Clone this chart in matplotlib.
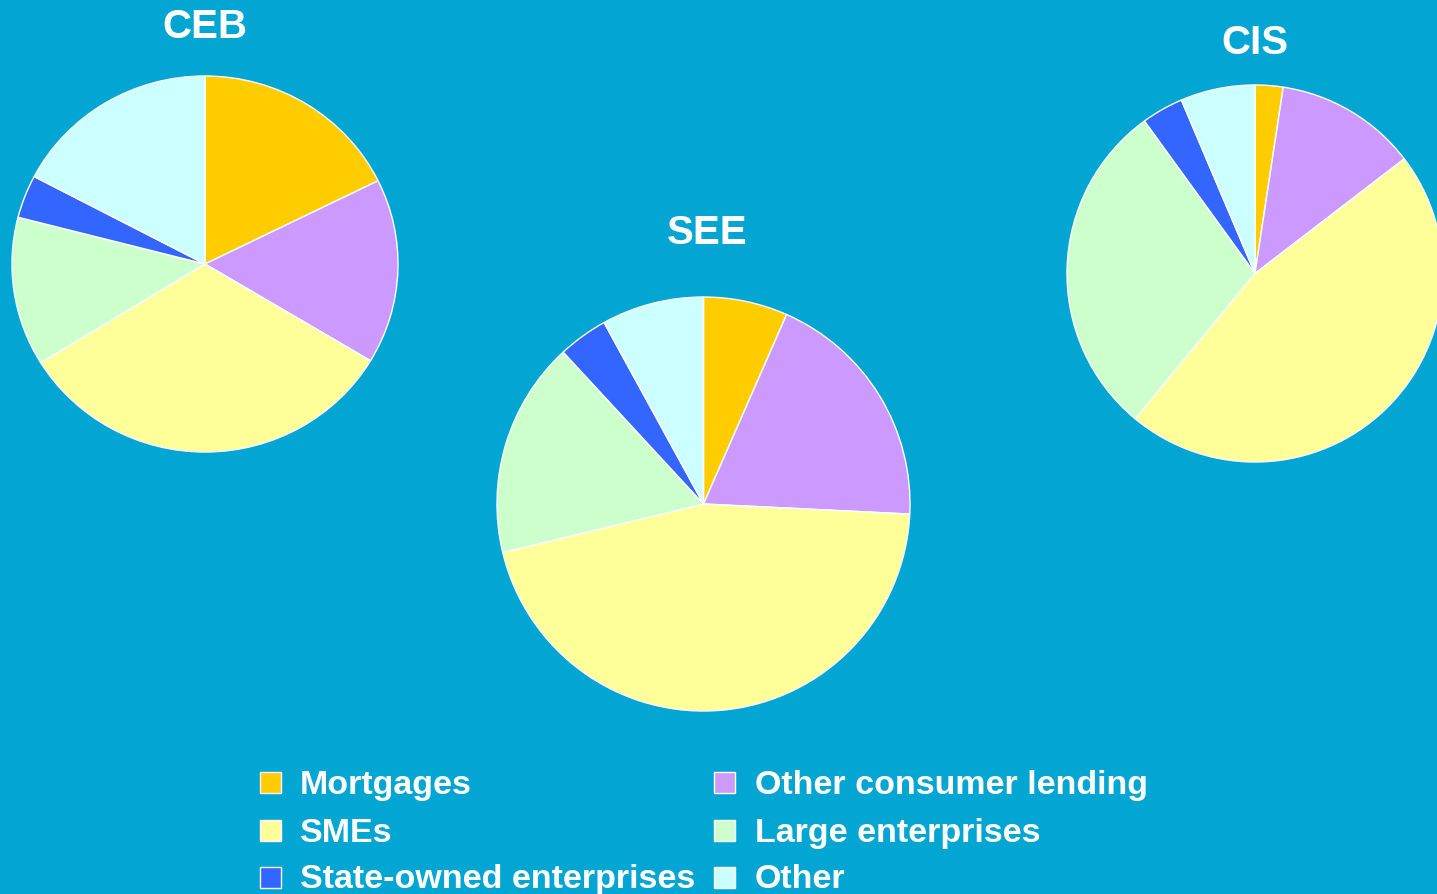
import matplotlib
matplotlib.use('Agg')
import matplotlib.pyplot as plt
from matplotlib.patches import Rectangle

W, H = 1437, 895
BG = '#03A6D3'

categories = ['Mortgages', 'Other consumer lending', 'SMEs',
              'Large enterprises', 'State-owned enterprises', 'Other']
colors = ['#FFCC00', '#CC99FF', '#FFFF99', '#CCFFCC', '#3366FF', '#CCFFFF']

# loan portfolio shares, %
ceb = [17.7, 15.9, 32.6, 12.8, 3.7, 17.3]
see = [6.6, 19.2, 45.5, 16.9, 3.9, 8.0]
cis = [2.4, 12.2, 46.4, 29.0, 3.6, 6.4]

plt.rcParams['font.family'] = ['Liberation Sans', 'DejaVu Sans']

fig = plt.figure(figsize=(W / 100, H / 100), dpi=100)
fig.patch.set_facecolor(BG)


def pie_at(values, cx, cy, rx, ry):
    """Pie centred at pixel (cx, cy) measured from the top-left corner."""
    ax = fig.add_axes([(cx - rx) / W, 1 - (cy + ry) / H, 2 * rx / W, 2 * ry / H])
    ax.pie(values, colors=colors, startangle=90, counterclock=False,
           wedgeprops=dict(edgecolor='white', linewidth=1.0))
    ax.set_aspect('auto')
    ax.set_xlim(-1, 1)
    ax.set_ylim(-1, 1)
    ax.axis('off')
    return ax


pie_at(ceb, 205, 265, 193, 188)
pie_at(see, 703.5, 505, 206.5, 207)
pie_at(cis, 1255, 274.5, 188, 188.5)

# overlay for titles and legend, in pixel coordinates
ov = fig.add_axes([0, 0, 1, 1])
ov.set_xlim(0, W)
ov.set_ylim(H, 0)
ov.axis('off')
ov.patch.set_alpha(0)

for name, x, y in [('CEB', 205, 27), ('SEE', 707, 233), ('CIS', 1255, 43)]:
    ov.text(x, y, name, ha='center', va='center', fontsize=29,
            fontweight='bold', color='white')

# legend: two columns, three rows
order = [0, 2, 4, 1, 3, 5]
rows_y = [783.5, 831.5, 878]
cols = [(270.5, 300), (724.5, 755)]
for k, i in enumerate(order):
    mx, tx = cols[k // 3]
    y = rows_y[k % 3]
    ov.add_patch(Rectangle((mx - 10.5, y - 10.5), 21, 21, facecolor=colors[i],
                           edgecolor='white', linewidth=1.0))
    ov.text(tx, y + 2, categories[i], ha='left', va='center', fontsize=24.5,
            fontweight='bold', color='white')

fig.savefig('out.png', dpi=100, facecolor=BG)
